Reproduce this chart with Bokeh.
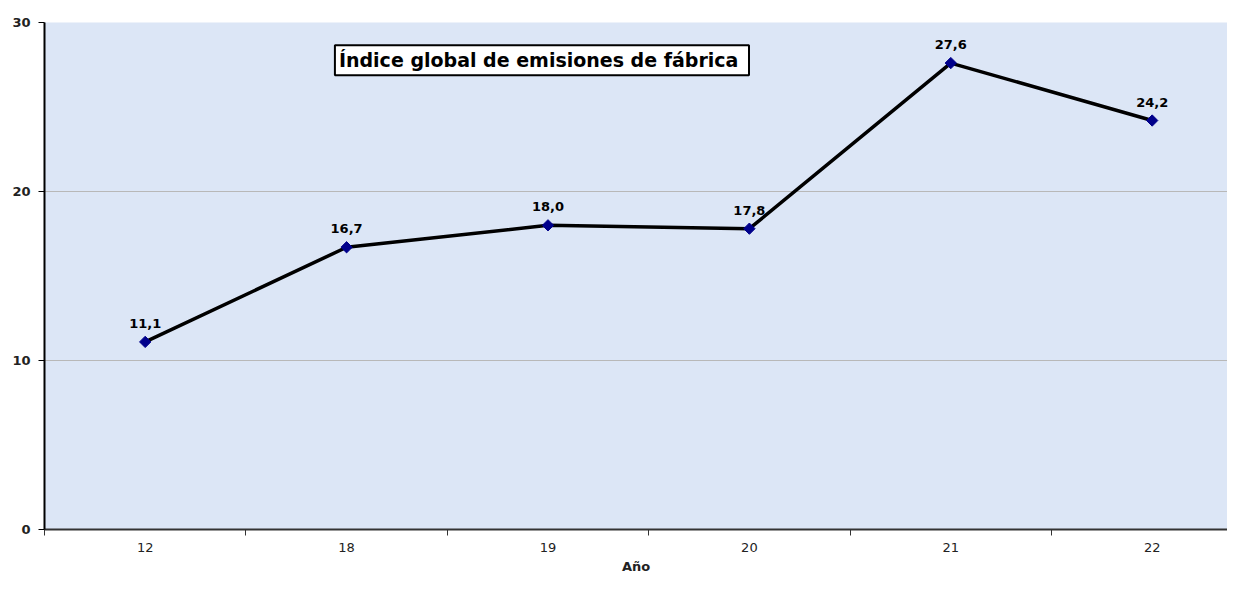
import math
from bokeh.plotting import figure
from bokeh.models import FixedTicker, Label, LabelSet, ColumnDataSource, Range1d
from bokeh.core.properties import value
from bokeh.embed import file_html
from bokeh.resources import INLINE

categories = ["12", "18", "19", "20", "21", "22"]
values = [11.1, 16.7, 18.0, 17.8, 27.6, 24.2]
value_labels = ["11,1", "16,7", "18,0", "17,8", "27,6", "24,2"]
y_ticks = [0, 10, 20, 30]
title_text = "Índice global de emisiones  de fábrica"
x_title = "Año"

xs = list(range(len(categories)))
src = ColumnDataSource(dict(x=xs, y=values, lab=value_labels))

p = figure(width=1227, height=576, output_backend="svg", toolbar_location=None,
           x_range=Range1d(-0.5, 5.374), y_range=Range1d(0, 30),
           min_border_left=44, min_border_right=0, min_border_top=22, min_border_bottom=45)
p.background_fill_color = "#DCE6F6"
p.border_fill_color = "white"
p.outline_line_color = None

p.line("x", "y", source=src, line_color="black", line_width=3.5)
p.scatter("x", "y", source=src, marker="square", angle=math.pi / 4, size=8,
          fill_color="#00008B", line_color="#00008B")

labels = LabelSet(x="x", y="y", text="lab", source=src, y_offset=14, text_align="center",
                  text_baseline="bottom", text_font=value("DejaVu Sans"), text_font_style="bold",
                  text_font_size="13px", text_color="black")
p.add_layout(labels)

title = Label(x=1.97, y=27.76, text=title_text, text_align="center", text_baseline="middle",
              text_font="DejaVu Sans", text_font_style="bold", text_font_size="19px",
              text_color="black", background_fill_color="white", border_line_color="black",
              border_line_width=2, padding=4)
p.add_layout(title)

# x axis
p.xaxis.ticker = FixedTicker(ticks=xs, minor_ticks=[i + 0.5 for i in range(-1, 6)])
p.xaxis.major_label_overrides = {i: c for i, c in enumerate(categories)}
p.xaxis.major_tick_out = 0
p.xaxis.major_tick_in = 0
p.xaxis.minor_tick_out = 6
p.xaxis.minor_tick_in = 0
p.xaxis.minor_tick_line_color = "#333333"
p.xaxis.axis_line_color = "#333333"
p.xaxis.axis_line_width = 2
p.xaxis.major_label_text_font = "DejaVu Sans"
p.xaxis.major_label_text_font_size = "13px"
p.xaxis.major_label_text_color = "#222222"
p.xaxis.major_label_standoff = 7
p.xaxis.axis_label = x_title
p.xaxis.axis_label_text_font = "DejaVu Sans"
p.xaxis.axis_label_text_font_style = "bold"
p.xaxis.axis_label_text_font_size = "13px"
p.xaxis.axis_label_text_color = "#222222"
p.xaxis.axis_label_standoff = 4

# y axis
p.yaxis.ticker = FixedTicker(ticks=y_ticks)
p.yaxis.major_tick_out = 6
p.yaxis.major_tick_in = 0
p.yaxis.minor_tick_line_color = None
p.yaxis.axis_line_color = "black"
p.yaxis.axis_line_width = 2
p.yaxis.major_tick_line_color = "black"
p.yaxis.major_label_text_font = "DejaVu Sans"
p.yaxis.major_label_text_font_style = "bold"
p.yaxis.major_label_text_font_size = "13px"
p.yaxis.major_label_text_color = "#222222"
p.yaxis.major_label_standoff = 8

p.xgrid.grid_line_color = None
p.ygrid.ticker = FixedTicker(ticks=y_ticks)
p.ygrid.grid_line_color = "#B8B8B8"
p.ygrid.grid_line_width = 1

open("out.html", "w").write(file_html(p, INLINE))
